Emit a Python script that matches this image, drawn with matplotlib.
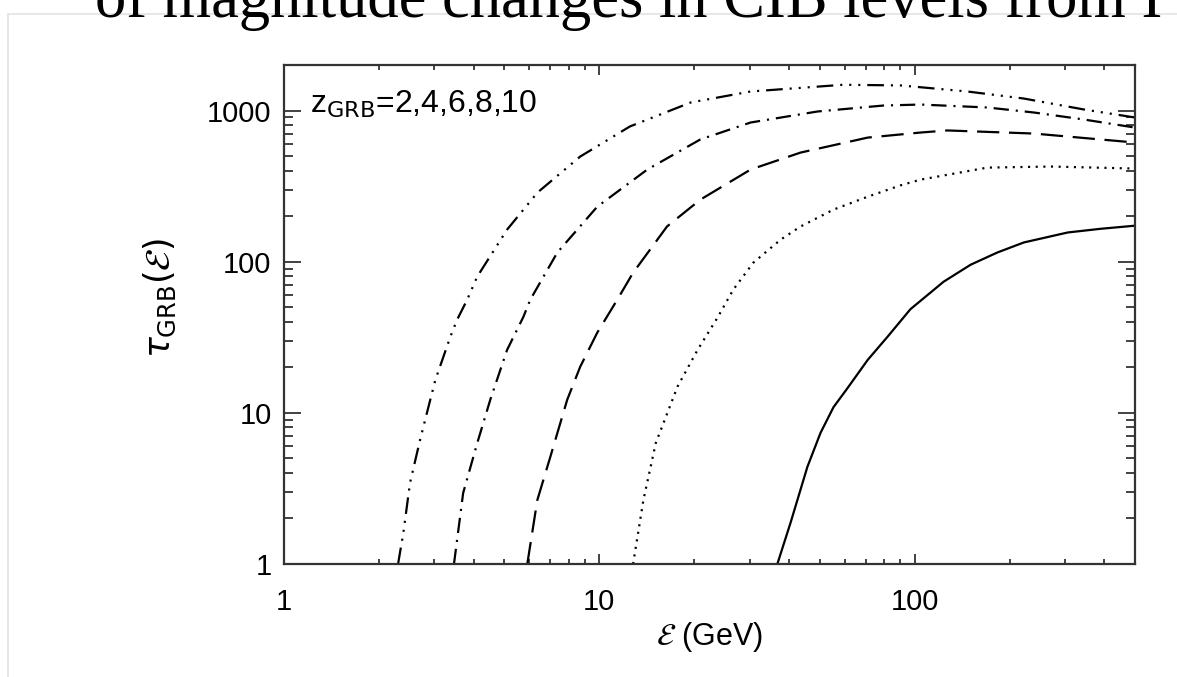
import matplotlib
matplotlib.use("Agg")
import matplotlib.pyplot as plt
import matplotlib.ticker as ticker
from matplotlib.lines import Line2D

plt.rcParams['font.family'] = ['Liberation Sans', 'DejaVu Sans']
plt.rcParams['mathtext.fontset'] = 'dejavusans'
plt.rcParams['lines.scale_dashes'] = False

# energy (GeV) and optical depth, one curve per source redshift
redshifts = [2, 4, 6, 8, 10]

E_z2 = [36.7, 40.4, 45.7, 50.3, 55.3, 61.3, 71.0, 82.1, 97, 123.6, 150.6, 183, 222, 306, 389, 500]
tau_z2 = [1.0, 1.87, 4.39, 7.37, 10.9, 14.6, 22.4, 31.9, 48.5, 73.7, 95.5, 115, 134, 156, 165, 173]

E_z4 = [12.8, 13.8, 15.1, 17.7, 20.5, 23.7, 26.6, 30.8, 37.6, 43.5, 55.3, 71, 90.3, 104.5, 170, 270, 500]
tau_z4 = [1.0, 2.65, 6.3, 14.9, 26.1, 42.6, 65.3, 98.5, 140, 171, 221, 269, 320, 349, 419, 426, 413]

E_z6 = [5.91, 6.36, 6.99, 7.91, 8.7, 9.85, 11.4, 12.8, 16.4, 20.9, 30.2, 43.5, 71, 104.5, 127, 239, 500]
tau_z6 = [1.0, 2.65, 5.1, 12.2, 20.2, 33.9, 56, 84.5, 171, 257, 407, 527, 662, 715, 738, 704, 614]

E_z8 = [3.46, 3.70, 4.10, 4.51, 5.1, 5.74, 6.04, 7.36, 9.85, 14.2, 20.9, 30.2, 49.2, 79.7, 104.5, 170, 239, 344, 500]
tau_z8 = [1.0, 2.95, 6.3, 12.2, 26.1, 43, 56, 115, 231, 407, 643, 833, 985, 1079, 1095, 1047, 970, 872, 771]

E_z10 = [2.30, 2.39, 2.51, 2.70, 2.91, 3.02, 3.37, 3.54, 3.81, 4.10, 5.1, 6.36, 8.7, 12.5, 19.5, 30.2, 59.3, 90.3, 147, 222, 344, 500]
tau_z10 = [1.0, 1.6, 3.44, 6.6, 12.2, 16.5, 31.9, 41.3, 56, 79.6, 163, 286, 496, 784, 1130, 1336, 1480, 1465, 1336, 1200, 1016, 899]

x_ticks = [1, 10, 100]
y_ticks = [1, 10, 100, 1000]

styles = {
    2: '-',
    4: (0, (1.5, 4)),
    6: (0, (16, 7)),
    8: (0, (11, 5, 1.5, 5)),
    10: (0, (12, 5, 1.5, 5, 1.5, 5, 1.5, 5)),
}
curves = {2: (E_z2, tau_z2), 4: (E_z4, tau_z4), 6: (E_z6, tau_z6),
          8: (E_z8, tau_z8), 10: (E_z10, tau_z10)}

fig = plt.figure(figsize=(11.77, 6.77), dpi=100)
ax = fig.add_axes([284/1177, 1-564/677, (1135-284)/1177, (564-65)/677])

for z in redshifts:
    E, tau = curves[z]
    ax.plot(E, tau, color='black', lw=1.6, linestyle=styles[z])

ax.set_xscale('log')
ax.set_yscale('log')
ax.set_xlim(1, 500)
ax.set_ylim(1, 2000)

ax.xaxis.set_major_locator(ticker.FixedLocator(x_ticks))
ax.yaxis.set_major_locator(ticker.FixedLocator(y_ticks))
ax.xaxis.set_major_formatter(ticker.FixedFormatter([str(t) for t in x_ticks]))
ax.yaxis.set_major_formatter(ticker.FixedFormatter([str(t) for t in y_ticks]))
ax.xaxis.set_minor_locator(ticker.LogLocator(base=10, subs=range(2, 10), numticks=20))
ax.yaxis.set_minor_locator(ticker.LogLocator(base=10, subs=range(2, 10), numticks=20))
ax.xaxis.set_minor_formatter(ticker.NullFormatter())
ax.yaxis.set_minor_formatter(ticker.NullFormatter())

ax.tick_params(axis='both', which='both', direction='in', top=True, right=True,
               colors='#333333', labelcolor='black', labelsize=21, width=1.3)
ax.tick_params(axis='x', which='major', length=7.2, pad=17)
ax.tick_params(axis='x', which='minor', length=3.6)
ax.tick_params(axis='y', which='major', length=12.2, pad=9)
ax.tick_params(axis='y', which='minor', length=6.8)
for s in ax.spines.values():
    s.set_color('#333333')
    s.set_linewidth(1.6)

ax.set_xlabel(r'$\mathcal{E}$ (GeV)', fontsize=22)
ax.xaxis.set_label_coords(0.5, (564-637)/499, transform=ax.transAxes)
ax.xaxis.label.set_va('center')
ax.set_ylabel(r'$\tau_{\rm GRB}(\mathcal{E})$', fontsize=25)
ax.yaxis.set_label_coords((160-284)/851, (564-298)/499, transform=ax.transAxes)
ax.yaxis.label.set_va('center')

ax.text(0.031, 0.904, r'z$_{\rm GRB}$=2,4,6,8,10', transform=ax.transAxes,
        fontsize=23, va='baseline', ha='left')

# cut-off slide text and frame above the plot
fig.add_artist(Line2D([8/1177, 8/1177], [0, 1-14/677], transform=fig.transFigure,
                      color='#e3e3e3', lw=1.2))
fig.add_artist(Line2D([8/1177, 1], [1-14/677, 1-14/677], transform=fig.transFigure,
                      color='#e3e3e3', lw=1.2))
fig.text(95/1177, 1-17/677, 'of magnitude changes in CIB levels from I',
         fontsize=45, family='Liberation Serif', va='baseline', ha='left')

fig.savefig('out.png', dpi=100)
